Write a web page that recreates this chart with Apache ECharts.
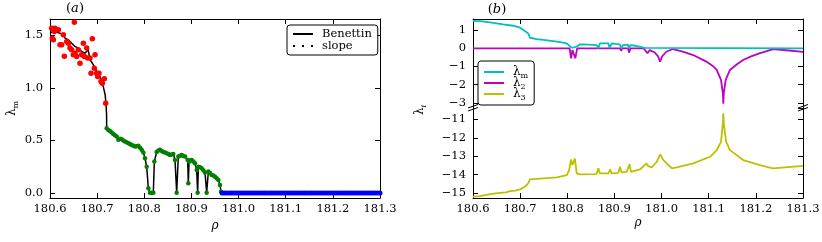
<!DOCTYPE html>
<html><head><meta charset="utf-8">
<script src="https://cdn.jsdelivr.net/npm/echarts@6/dist/echarts.min.js"></script>
<style>html,body{margin:0;padding:0;background:#fff}#c{width:822px;height:242px}</style>
</head><body><div id="c"></div>
<script>
// ---------- data (panel a) ----------
const xTicks = [180.6, 180.7, 180.8, 180.9, 181.0, 181.1, 181.2, 181.3];
const benRho = [180.600,180.607,180.614,180.621,180.628,180.632,180.639,180.646,180.653,180.660,180.667,180.674,180.678,180.681,180.685,180.692,180.699,180.706,180.710,180.713,180.717,180.719,180.720,
180.7202,180.7237,180.7273,180.7308,180.7343,180.7378,180.7414,180.7450,180.7485,180.7520,180.7555,180.7591,180.7626,180.7662,180.7697,180.7733,180.7768,180.7803,180.7839,180.7874,180.7910,180.7945,180.7980,180.8015,180.8051,180.8086,180.8121,180.8157,180.8192,180.8213,180.8263,180.8298,180.8333,180.8369,180.8404,180.8440,180.8475,180.8511,180.8546,180.8581,180.8616,180.8652,180.8687,180.8722,180.8757,180.8793,180.8828,180.8864,180.8920,180.8934,180.8949,180.8977,180.9005,180.9041,180.9076,180.9111,180.9132,180.9147,180.9182,180.9217,180.9253,180.9288,180.9323,180.9359,180.9394,180.9430,180.9465,180.9500,180.9536,180.9571,180.9606,180.9627,180.964,181.300];
const benVal = [1.52,1.536,1.53,1.52,1.505,1.473,1.457,1.425,1.394,1.378,1.346,1.33,1.314,1.362,1.267,1.219,1.155,1.108,1.06,1.012,0.933,0.838,0.743,
0.616,0.600,0.590,0.575,0.560,0.548,0.536,0.505,0.515,0.511,0.500,0.489,0.482,0.473,0.465,0.457,0.450,0.441,0.445,0.448,0.430,0.410,0.385,0.330,0.250,0.045,0.003,0.003,0.003,0.300,0.390,0.405,0.410,0.400,0.390,0.385,0.378,0.370,0.362,0.366,0.371,0.314,0.003,0.346,0.355,0.362,0.352,0.346,0.314,0.092,0.298,0.310,0.314,0.300,0.283,0.219,0.003,0.250,0.245,0.235,0.215,0.194,0.003,0.203,0.190,0.171,0.165,0.155,0.140,0.124,0.076,0.012,0,0];
const redRho = [180.6035,180.6049,180.6071,180.6092,180.6106,180.6141,180.6177,180.6212,180.6248,180.6283,180.6304,180.6354,180.6389,180.6424,180.6460,180.6495,180.6516,180.6530,180.6566,180.6601,180.6636,180.6672,180.6707,180.6728,180.6778,180.6799,180.6849,180.6870,180.6898,180.6940,180.6955,180.6990,180.7011,180.7039,180.7082,180.7110,180.7153,180.7181];
const redVal = [1.568,1.473,1.457,1.536,1.568,1.552,1.552,1.41,1.41,1.505,1.30,1.44,1.425,1.378,1.362,1.314,1.625,1.33,1.298,1.362,1.235,1.314,1.425,1.298,1.378,1.283,1.283,1.14,1.467,1.187,1.314,1.14,1.108,1.14,1.06,1.044,1.086,0.854];
const greenRho = [180.7202,180.7237,180.7273,180.7308,180.7343,180.7378,180.7414,180.7450,180.7485,180.7520,180.7555,180.7591,180.7626,180.7662,180.7697,180.7733,180.7768,180.7803,180.7839,180.7874,180.7910,180.7945,180.7980,180.8015,180.8051,180.8086,180.8121,180.8157,180.8192,180.8213,180.8263,180.8298,180.8333,180.8369,180.8404,180.8440,180.8475,180.8511,180.8546,180.8581,180.8616,180.8652,180.8687,180.8722,180.8757,180.8793,180.8828,180.8864,180.8920,180.8934,180.8949,180.8977,180.9005,180.9041,180.9076,180.9111,180.9132,180.9147,180.9182,180.9217,180.9253,180.9288,180.9323,180.9359,180.9394,180.9430,180.9465,180.9500,180.9536,180.9571,180.9606,180.9627];
const greenVal = [0.616,0.600,0.590,0.575,0.560,0.548,0.536,0.505,0.515,0.511,0.500,0.489,0.482,0.473,0.465,0.457,0.450,0.441,0.445,0.448,0.430,0.410,0.385,0.330,0.250,0.045,0.003,0.003,0.003,0.300,0.390,0.405,0.410,0.400,0.390,0.385,0.378,0.370,0.362,0.366,0.371,0.314,0.003,0.346,0.355,0.362,0.352,0.346,0.314,0.092,0.298,0.310,0.314,0.300,0.283,0.219,0.003,0.250,0.245,0.235,0.215,0.194,0.003,0.203,0.190,0.171,0.165,0.155,0.140,0.124,0.076,0.012];
const blueRho = [180.965,180.970,180.975,180.980,180.985,180.990,180.995,181.000,181.005,181.010,181.015,181.020,181.025,181.030,181.035,181.040,181.045,181.050,181.055,181.060,181.065,181.070,181.075,181.080,181.085,181.090,181.095,181.100,181.105,181.110,181.115,181.120,181.125,181.130,181.135,181.140,181.145,181.150,181.155,181.160,181.165,181.170,181.175,181.180,181.185,181.190,181.195,181.200,181.205,181.210,181.215,181.220,181.225,181.230,181.235,181.240,181.245,181.250,181.255,181.260,181.265,181.270,181.275,181.280,181.285,181.290,181.295,181.300];
const blueVal = [0,0,0,0,0,0,0,0,0,0,0,0,0,0,0,0,0,0,0,0,0,0,0,0,0,0,0,0,0,0,0,0,0,0,0,0,0,0,0,0,0,0,0,0,0,0,0,0,0,0,0,0,0,0,0,0,0,0,0,0,0,0,0,0,0,0,0,0];
// ---------- data (panel b) ----------
const lmRho = [180.600,180.615,180.636,180.650,180.664,180.685,180.700,180.710,180.717,180.721,180.735,180.750,180.770,180.785,180.799,180.806,180.809,180.812,180.816,180.820,180.827,180.845,180.862,180.866,180.869,180.887,180.890,180.894,180.911,180.915,180.918,180.929,180.931,180.934,180.945,180.955,180.964,180.967,181.300];
const lmVal = [1.51,1.49,1.42,1.37,1.31,1.24,1.13,0.95,0.82,0.58,0.51,0.46,0.40,0.34,0.27,0.09,0.0,0.03,0.0,0.09,0.22,0.20,0.18,0.0,0.27,0.27,0.02,0.27,0.22,0.0,0.18,0.20,0.0,0.18,0.14,0.08,0.02,0,0];
const l2Rho = [180.600,180.805,180.808,180.811,180.814,180.817,180.821,180.865,180.867,180.869,180.889,180.891,180.893,180.912,180.914,180.917,180.929,180.931,180.934,180.962,180.970,180.975,180.985,180.992,180.997,181.001,181.010,181.024,181.045,181.067,181.095,181.110,181.117,181.126,181.130,181.131,181.132,181.136,181.145,181.160,181.173,181.190,181.209,181.237,181.270,181.300];
const l2Val = [0,0,-0.55,-0.1,-0.1,-0.55,0,0,-0.08,0,0,-0.06,0,0,-0.13,0,0,-0.24,0,0,-0.27,-0.1,-0.22,-0.42,-0.73,-0.45,-0.19,-0.04,-0.18,-0.37,-0.73,-1.0,-1.19,-1.73,-2.46,-3.04,-2.46,-1.73,-1.19,-0.88,-0.64,-0.44,-0.27,-0.04,-0.12,-0.2];
const l3Rho = [180.600,180.615,180.636,180.657,180.670,180.678,180.690,180.700,180.710,180.717,180.721,180.749,180.778,180.799,180.804,180.808,180.811,180.816,180.820,180.827,180.862,180.866,180.869,180.887,180.891,180.894,180.908,180.912,180.915,180.926,180.932,180.935,180.954,180.968,180.972,180.979,180.990,180.997,181.004,181.022,181.032,181.067,181.103,181.117,181.126,181.130,181.131,181.132,181.137,181.145,181.173,181.209,181.236,181.300];
const l3Val = [-15.2,-15.17,-15.06,-14.99,-14.96,-14.9,-14.87,-14.8,-14.66,-14.48,-14.26,-14.2,-14.15,-14.03,-13.76,-13.17,-13.48,-13.12,-13.93,-13.99,-13.97,-13.66,-13.93,-13.93,-13.72,-13.93,-13.9,-13.58,-13.88,-13.85,-13.43,-13.85,-13.72,-13.39,-13.54,-13.61,-13.3,-12.9,-13.21,-13.66,-13.61,-13.39,-13.03,-12.67,-12.22,-11.22,-10.67,-11.22,-12.22,-12.67,-13.21,-13.48,-13.66,-13.52];

// ---------- chart ----------
const FONT = 'DejaVu Serif';
const pairs = (a, b) => a.map((x, i) => [x, b[i]]);
const fmt = (v, d) => (v < 0 ? '\u2212' : '') + Math.abs(v).toFixed(d);
const rich = {
  l: {fontFamily: FONT, fontSize: 12, lineHeight: 12, color: '#000'},
  s: {fontFamily: FONT, fontSize: 8, lineHeight: 8, padding: [8, 0, 0, 0], color: '#000'},
  si: {fontFamily: FONT, fontSize: 8, lineHeight: 8, fontStyle: 'italic', padding: [8, 0, 0, 0], color: '#000'},
  p: {fontFamily: FONT, fontSize: 13, color: '#000'},
  i: {fontFamily: FONT, fontSize: 13, fontStyle: 'italic', color: '#000'}
};
const line = {show: true, onZero: false, lineStyle: {color: '#000', width: 1}};
const tick = {show: true, inside: true, length: 5, lineStyle: {color: '#000', width: 1}};
const lab = {fontFamily: FONT, fontSize: 11.5, color: '#000'};
const XR = {min: xTicks[0], max: xTicks[xTicks.length - 1], interval: 0.1};

function xAx(grid, pos, showLabel, name) {
  const o = Object.assign({type: 'value', gridIndex: grid, position: pos, axisLine: line, axisTick: tick,
    splitLine: {show: false},
    axisLabel: Object.assign({show: showLabel, margin: 5, formatter: v => v.toFixed(1)}, lab)}, XR);
  if (name) Object.assign(o, {name: name, nameLocation: 'middle', nameGap: 19,
    nameTextStyle: {fontFamily: FONT, fontSize: 12, fontStyle: 'italic', color: '#000'}});
  return o;
}
function yAx(grid, pos, min, max, step, dec, showLabel) {
  return {type: 'value', gridIndex: grid, position: pos, min: min, max: max, minInterval: step, maxInterval: step,
    axisLine: line, axisTick: tick, splitLine: {show: false},
    axisLabel: Object.assign({show: showLabel, margin: 7, showMinLabel: false, showMaxLabel: false,
      formatter: v => fmt(v, dec)}, lab)};
}

const chart = echarts.init(document.getElementById('c'), null, {renderer: 'canvas'});
const yA0 = yAx(0, 'left', -0.048, 1.655, 0.5, 1, true);
Object.assign(yA0, {name: '{l|λ}{s|m}', nameLocation: 'middle', nameGap: 32, nameRotate: 90,
  nameTextStyle: {rich: rich}});

chart.setOption({
  animation: false,
  backgroundColor: '#fff',
  grid: [
    {left: 50, top: 19, width: 330, height: 179, outerBoundsMode: 'none'},
    {left: 473, top: 19, width: 330, height: 89, outerBoundsMode: 'none'},
    {left: 473, top: 108, width: 330, height: 90, outerBoundsMode: 'none'}
  ],
  xAxis: [xAx(0, 'bottom', true, 'ρ'), xAx(0, 'top', false), xAx(1, 'top', false), xAx(2, 'bottom', true, 'ρ')],
  yAxis: [yA0, yAx(0, 'right', -0.048, 1.655, 0.5, 1, false),
    yAx(1, 'left', -3.28, 1.61, 1, 0, true), yAx(1, 'right', -3.28, 1.61, 1, 0, false),
    yAx(2, 'left', -15.27, -10.38, 1, 0, true), yAx(2, 'right', -15.27, -10.38, 1, 0, false)],
  legend: [{
    data: [{name: 'Benettin', icon: 'path://M0,0h20v2h-20z'},
           {name: 'slope', icon: 'path://M0,0h2v2h-2zM9,0h2v2h-2zM18,0h2v2h-2z'}],
    orient: 'vertical', left: 287, top: 25, itemWidth: 20, itemHeight: 2, itemGap: 0, padding: [3, 6],
    borderColor: '#000', borderWidth: 1, borderRadius: 3, backgroundColor: '#fff', selectedMode: false,
    itemStyle: {borderWidth: 0},
    textStyle: {fontFamily: FONT, fontSize: 11.5, color: '#000', lineHeight: 12, padding: [0, 0, 0, 4]}
  }, {
    data: [{name: 'lm', icon: 'path://M0,0h20v2h-20z'}, {name: 'l2', icon: 'path://M0,0h20v2h-20z'},
           {name: 'l3', icon: 'path://M0,0h20v2h-20z'}],
    orient: 'vertical', left: 478, top: 61, itemWidth: 20, itemHeight: 2, itemGap: -5, padding: [3, 6],
    borderColor: '#000', borderWidth: 1, borderRadius: 3, backgroundColor: '#fff', selectedMode: false,
    itemStyle: {borderWidth: 0},
    formatter: n => ({lm: '{l|λ}{s|m}', l2: '{l|λ}{s|2}', l3: '{l|λ}{s|3}'}[n]),
    textStyle: {rich: rich, padding: [0, 0, 0, 4]}
  }],
  graphic: [
    {type: 'text', x: 75, y: 9, style: {text: '{p|(}{i|a}{p|)}', rich: rich, align: 'center', verticalAlign: 'middle'}},
    {type: 'text', x: 497, y: 10, style: {text: '{p|(}{i|b}{p|)}', rich: rich, align: 'center', verticalAlign: 'middle'}},
    {type: 'text', x: 420, y: 110, rotation: Math.PI / 2, style: {text: '{l|λ}{si|i}', rich: rich, align: 'center', verticalAlign: 'middle'}},
    {type: 'line', shape: {x1: 468, y1: 108, x2: 478, y2: 104.5}, style: {stroke: '#000', lineWidth: 1}},
    {type: 'line', shape: {x1: 468, y1: 111, x2: 478, y2: 107.5}, style: {stroke: '#000', lineWidth: 1}},
    {type: 'line', shape: {x1: 798, y1: 108, x2: 808, y2: 104.5}, style: {stroke: '#000', lineWidth: 1}},
    {type: 'line', shape: {x1: 798, y1: 111, x2: 808, y2: 107.5}, style: {stroke: '#000', lineWidth: 1}}
  ],
  series: [
    {name: 'Benettin', type: 'line', xAxisIndex: 0, yAxisIndex: 0, data: pairs(benRho, benVal), color: '#000',
      symbol: 'none', lineStyle: {width: 1.5, color: '#000'}, z: 2},
    {name: 'slope', type: 'line', xAxisIndex: 0, yAxisIndex: 0, data: [], color: '#000', symbol: 'none'},
    {name: 'red', type: 'scatter', xAxisIndex: 0, yAxisIndex: 0, data: pairs(redRho, redVal), symbolSize: 5.5,
      itemStyle: {color: '#ff0000', opacity: 1}, z: 3},
    {name: 'green', type: 'scatter', xAxisIndex: 0, yAxisIndex: 0, data: pairs(greenRho, greenVal), symbolSize: 4.5,
      itemStyle: {color: '#008000', opacity: 1}, z: 3},
    {name: 'blue', type: 'scatter', xAxisIndex: 0, yAxisIndex: 0, data: pairs(blueRho, blueVal), symbolSize: 5,
      itemStyle: {color: '#0000ff', opacity: 1}, z: 3},
    {name: 'lm', type: 'line', xAxisIndex: 2, yAxisIndex: 2, data: pairs(lmRho, lmVal), color: '#00bfbf',
      symbol: 'none', lineStyle: {width: 1.8, color: '#00bfbf'}, z: 3},
    {name: 'l2', type: 'line', xAxisIndex: 2, yAxisIndex: 2, data: pairs(l2Rho, l2Val), color: '#bf00bf',
      symbol: 'none', lineStyle: {width: 1.8, color: '#bf00bf'}, z: 2},
    {name: 'l3', type: 'line', xAxisIndex: 3, yAxisIndex: 4, data: pairs(l3Rho, l3Val), color: '#bfbf00',
      symbol: 'none', lineStyle: {width: 1.8, color: '#bfbf00'}}
  ]
});
</script></body></html>
